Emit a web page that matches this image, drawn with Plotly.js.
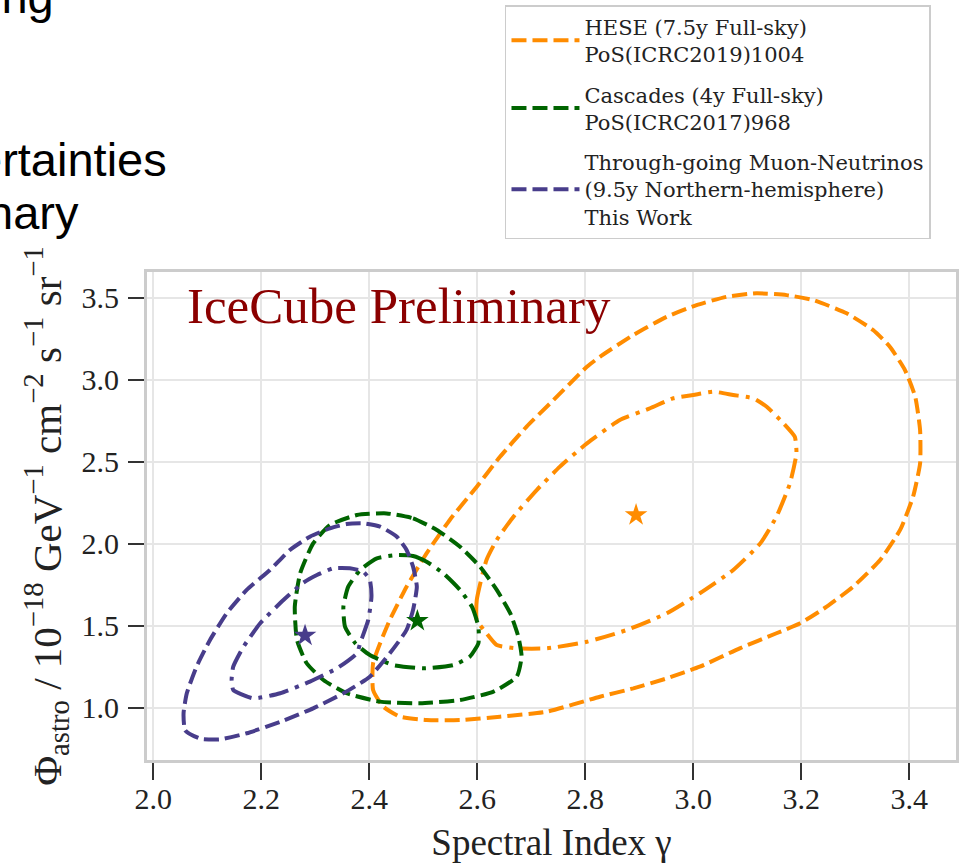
<!DOCTYPE html>
<html>
<head>
<meta charset="utf-8">
<script src="https://cdn.plot.ly/plotly-3.0.1.min.js"></script>
<style>html,body{margin:0;padding:0;background:#fff;overflow:hidden}#plot{width:959px;height:863px}</style>
</head>
<body>
<div id="plot"></div>
<script>
// ---- Data (gamma, Phi_astro) ----
// HESE (7.5y) 90% contour (dashed)
var hese90_x = [2.407,2.407,2.426,2.457,2.506,2.568,2.642,2.729,2.827,2.889,2.951,3.012,3.086,3.154,3.198,3.247,3.296,3.346,3.383,3.407,3.420,3.420,3.411,3.392,3.364,3.333,3.284,3.222,3.173,3.117,3.062,3.006,2.951,2.889,2.827,2.803,2.741,2.691,2.642,2.599,2.549,2.506,2.469,2.438,2.420];
var hese90_y = [1.271,1.108,1.006,0.945,0.925,0.925,0.945,0.976,1.067,1.118,1.179,1.250,1.362,1.454,1.515,1.616,1.738,1.901,2.084,2.287,2.490,2.693,2.896,3.059,3.201,3.303,3.405,3.486,3.516,3.527,3.506,3.455,3.384,3.273,3.140,3.079,2.876,2.713,2.530,2.348,2.145,1.941,1.738,1.535,1.393];
// HESE 68% contour (dash-dot)
var hese68_x = [2.617,2.599,2.599,2.617,2.636,2.673,2.729,2.803,2.877,2.951,3.012,3.074,3.124,3.154,3.179,3.191,3.188,3.167,3.136,3.111,3.074,3.037,3.000,2.963,2.920,2.864,2.803,2.753,2.710,2.667,2.636];
var hese68_y = [1.901,1.657,1.535,1.454,1.382,1.362,1.362,1.402,1.474,1.576,1.698,1.840,2.002,2.165,2.368,2.551,2.652,2.734,2.835,2.887,2.907,2.927,2.907,2.887,2.826,2.754,2.612,2.470,2.327,2.165,2.023];
var hese_best = [2.894, 2.175];

// Cascades (4y) 90% contour (dashed)
var casc90_x = [2.432,2.481,2.525,2.568,2.605,2.636,2.661,2.676,2.682,2.673,2.630,2.568,2.494,2.420,2.358,2.315,2.284,2.266,2.262,2.272,2.296,2.327,2.377];
var casc90_y = [2.185,2.155,2.084,1.982,1.860,1.718,1.576,1.433,1.311,1.189,1.098,1.047,1.027,1.037,1.088,1.169,1.271,1.413,1.616,1.820,2.002,2.114,2.175];
// Cascades 68% contour (dash-dot)
var casc68_x = [2.451,2.481,2.506,2.537,2.568,2.590,2.602,2.602,2.586,2.556,2.500,2.444,2.401,2.374,2.355,2.352,2.361,2.383,2.414];
var casc68_y = [1.931,1.925,1.890,1.820,1.718,1.616,1.494,1.393,1.311,1.260,1.240,1.260,1.321,1.393,1.494,1.616,1.738,1.840,1.911];
var casc_best = [2.489, 1.530];

// Through-going muon neutrinos (9.5y) 90% contour (dashed)
var numu90_x = [2.056,2.059,2.087,2.124,2.173,2.236,2.296,2.352,2.401,2.438,2.469,2.481,2.488,2.481,2.469,2.451,2.420,2.389,2.358,2.327,2.290,2.253,2.216,2.173,2.136,2.105,2.080,2.062];
var numu90_y = [0.966,0.862,0.811,0.807,0.844,0.915,0.996,1.088,1.189,1.332,1.474,1.596,1.738,1.860,1.962,2.043,2.104,2.124,2.120,2.094,2.043,1.962,1.840,1.718,1.576,1.413,1.250,1.088];
// 68% contour (dash-dot)
var numu68_x = [2.145,2.148,2.185,2.235,2.290,2.340,2.377,2.383,2.398,2.404,2.401,2.389,2.364,2.333,2.303,2.278,2.241,2.198,2.167,2.148];
var numu68_y = [1.169,1.108,1.057,1.088,1.159,1.240,1.332,1.393,1.535,1.677,1.779,1.829,1.850,1.850,1.809,1.763,1.657,1.515,1.372,1.250];
var numu_best = [2.281, 1.440];

var names = [
  'HESE (7.5y Full-sky)<br>PoS(ICRC2019)1004',
  'Cascades (4y Full-sky)<br>PoS(ICRC2017)968',
  'Through-going Muon-Neutrinos<br>(9.5y Northern-hemisphere)<br>This Work'
];
var colors = ['#ff8c00', '#006400', '#483d8b'];
var xTicks = [2.0, 2.2, 2.4, 2.6, 2.8, 3.0, 3.2, 3.4];
var yTicks = [1.0, 1.5, 2.0, 2.5, 3.0, 3.5];

function closed(a){ return a.concat([a[0]]); }

var DASH = '15px,6px';
var DASHDOT = '20px,7px,4px,7px';

var sets = [
  [hese90_x, hese90_y, hese68_x, hese68_y, hese_best],
  [casc90_x, casc90_y, casc68_x, casc68_y, casc_best],
  [numu90_x, numu90_y, numu68_x, numu68_y, numu_best]
];

var traces = [];
sets.forEach(function(s, i){
  traces.push({
    type:'scatter', mode:'lines', x: closed(s[0]), y: closed(s[1]),
    name: names[i], legendgroup: 'g'+i, showlegend: true,
    line:{color: colors[i], width: 4, dash: DASH, shape:'spline', smoothing:0.5}
  });
  traces.push({
    type:'scatter', mode:'lines', x: closed(s[2]), y: closed(s[3]),
    name: names[i] + ' 68%', legendgroup: 'g'+i, showlegend: false,
    line:{color: colors[i], width: 4, dash: DASHDOT, shape:'spline', smoothing:0.5}
  });
  traces.push({
    type:'scatter', mode:'markers', x:[s[4][0]], y:[s[4][1]],
    showlegend:false, legendgroup: 'g'+i,
    marker:{symbol:'star', size:17, color: colors[i], line:{width:0}}
  });
});

var serif = 'Liberation Serif, Times New Roman, serif';
var legendFont = 'DejaVu Serif, Liberation Serif, serif';
var sans = 'Liberation Sans, Arial, sans-serif';

var layout = {
  width: 959, height: 863,
  margin: {l:147, r:3, t:272, b:103, pad:0},
  paper_bgcolor:'#ffffff', plot_bgcolor:'#ffffff',
  font: {family: serif, color:'#222222'},
  showlegend: true,
  legend: {
    x: 0.4425, xanchor:'left', y: 1.547, yanchor:'top',
    bgcolor:'#ffffff', bordercolor:'#cccccc', borderwidth:1.5,
    font:{family: legendFont, size:21, color:'#222222'},
    tracegroupgap: 10, itemwidth: 68
  },
  xaxis: {
    range:[1.9883, 3.4865], tickvals: xTicks, ticktext: xTicks.map(function(v){return v.toFixed(1);}),
    showgrid:true, gridcolor:'#e6e6e6', gridwidth:2,
    showline:true, mirror:true, linecolor:'#cccccc', linewidth:3,
    ticks:'outside', ticklen:17, tickwidth:2, tickcolor:'#333333',
    ticklabelstandoff: -7,
    tickfont:{family: serif, size:30, color:'#222222'},
    zeroline:false,
    title:{text:'Spectral Index \u03B3', font:{family: serif, size:37, color:'#222222'}, standoff: 16}
  },
  yaxis: {
    range:[0.681, 3.657], tickvals: yTicks, ticktext: yTicks.map(function(v){return v.toFixed(1);}),
    showgrid:true, gridcolor:'#e6e6e6', gridwidth:2,
    showline:true, mirror:true, linecolor:'#cccccc', linewidth:3,
    ticks:'outside', ticklen:16, tickwidth:2, tickcolor:'#333333',
    ticklabelstandoff: 3,
    tickfont:{family: serif, size:30, color:'#222222'},
    zeroline:false,
    title:{text:'\u03A6<sub>astro</sub> / 10<sup>\u221218</sup> GeV<sup>\u22121</sup> cm<sup>\u22122</sup> s<sup>\u22121</sup> sr<sup>\u22121</sup>',
      font:{family: serif, size:41, color:'#222222'}, standoff: 8}
  },
  annotations: [
    {xref:'paper', yref:'paper', x:(185-147)/809, y:(760-306)/488, xanchor:'left', yanchor:'middle',
     text:'IceCube Preliminary', showarrow:false, font:{family: serif, size:51, color:'#8b0000'}},
    {xref:'paper', yref:'paper', x:(56-147)/809, y:(760-(-3))/488, xanchor:'right', yanchor:'middle',
     text:'ing', showarrow:false, font:{family: sans, size:47, color:'#000000'}},
    {xref:'paper', yref:'paper', x:(169-147)/809, y:(760-159)/488, xanchor:'right', yanchor:'middle',
     text:'ertainties', showarrow:false, font:{family: sans, size:47, color:'#000000'}},
    {xref:'paper', yref:'paper', x:(81-147)/809, y:(760-212)/488, xanchor:'right', yanchor:'middle',
     text:'nary', showarrow:false, font:{family: sans, size:47, color:'#000000'}}
  ]
};

Plotly.newPlot('plot', traces, layout, {staticPlot:true, displayModeBar:false});
</script>
</body>
</html>
